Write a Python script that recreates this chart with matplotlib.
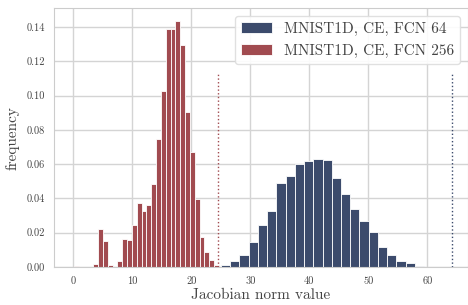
import matplotlib
matplotlib.use("Agg")
import matplotlib.pyplot as plt
import numpy as np
import seaborn as sns

# histogram heights (density)
labels = ["MNIST1D, CE, FCN 64", "MNIST1D, CE, FCN 256"]

# FCN 256: 30 bins between min and max norm
red_range = (0.10, 24.67)
red_heights = [0.0003, 0, 0, 0, 0.0018, 0.0222, 0.0152, 0.0013, 0, 0.0037,
               0.0163, 0.0159, 0.0245, 0.0373, 0.0325, 0.0363, 0.0486, 0.0747,
               0.1029, 0.1390, 0.1390, 0.1433, 0.1297, 0.0906, 0.0669, 0.0397,
               0.0173, 0.0087, 0.0043, 0.0012]
red_bound = 24.6

# FCN 64
blue_range = (25.03, 59.46)
blue_heights = [0.0012, 0.0033, 0.0070, 0.0148, 0.0247, 0.0329, 0.0488, 0.0531,
                0.0599, 0.0618, 0.0630, 0.0626, 0.0517, 0.0426, 0.0338, 0.0270,
                0.0202, 0.0117, 0.0072, 0.0035, 0.0025, 0.0008]
blue_bound = 64.13

blue = "#3c4b6c"
red = "#a14b50"

sns.set_style("whitegrid")
plt.rcParams["font.family"] = ["cmr10", "DejaVu Serif"]
plt.rcParams["mathtext.fontset"] = "cm"
plt.rcParams["axes.unicode_minus"] = False

fig = plt.figure(figsize=(4.68, 3.05), dpi=100)
ax = fig.add_axes([54 / 468, 38 / 305, 414 / 468, 258.7 / 305])


def draw_hist(lo_hi, heights, color, label):
    edges = np.linspace(lo_hi[0], lo_hi[1], len(heights) + 1)
    ax.bar(edges[:-1], heights, width=np.diff(edges), align="edge",
           color=color, edgecolor="white", linewidth=0.6, label=label, zorder=2)


draw_hist(blue_range, blue_heights, blue, labels[0])
draw_hist(red_range, red_heights, red, labels[1])

ax.axvline(red_bound, ymax=0.75, color=red, linestyle=":", linewidth=1.0, zorder=3)
ax.axvline(blue_bound, ymax=0.75, color=blue, linestyle=":", linewidth=1.0, zorder=3)

ax.set_xlim(-3.27, 66.9)
ax.set_ylim(0, 0.151)
ax.set_xticks([0, 10, 20, 30, 40, 50, 60])
ax.set_yticks(np.arange(0, 0.141, 0.02))
ax.yaxis.set_major_formatter(matplotlib.ticker.FormatStrFormatter("%.2f"))
ax.tick_params(labelsize=7.5, colors="#444444", pad=3)
for s in ax.spines.values():
    s.set_color("#cccccc")
ax.grid(color="#d4d4d4", linewidth=1.0, zorder=0)
ax.set_axisbelow(True)

ax.set_xlabel("Jacobian norm value", fontsize=11, color="#444444", labelpad=2)
ax.set_ylabel("frequency", fontsize=11, color="#444444", labelpad=5)

ax.legend(loc="upper right", fontsize=11, frameon=True, framealpha=0.9,
          edgecolor="#dddddd", labelcolor="#444444")

fig.savefig("out.png", dpi=100)
